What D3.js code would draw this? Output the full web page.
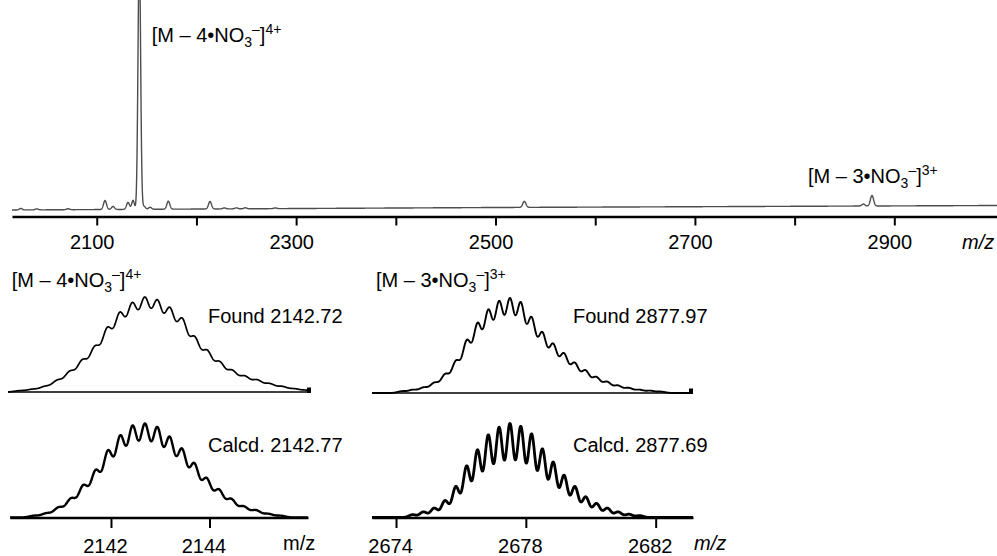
<!DOCTYPE html>
<html>
<head>
<meta charset="utf-8">
<script src="https://cdn.jsdelivr.net/npm/d3@7"></script>
<style>
  body { margin: 0; background: #fff; }
  svg { display: block; }
  text { font-family: "Liberation Sans", Arial, Helvetica, sans-serif; fill: #000; }
</style>
</head>
<body>
<svg id="chart" width="997" height="556"></svg>
<script>
// ---------- survey spectrum (m/z 2015–3000) ----------
const surveyTicks = [2100, 2200, 2300, 2400, 2500, 2600, 2700, 2800, 2900];
const surveyTickLabels = ["2100", "", "2300", "", "2500", "", "2700", "", "2900"];
const surveyPeakMz  = [2023.8, 2039.8, 2071.2, 2108.3, 2116.3, 2131.4, 2136.4, 2142.7, 2147.4, 2153.5, 2171.8, 2213.6, 2228, 2240, 2249, 2279, 2528.9, 2868.9, 2877.6];
const surveyPeakInt = [1.5,    1,      1,      9,      3,      7,      9,      260,    3,      2,      8,      7.5,    1,    1,    1,    0.7,  6,      2,      10.5];
const surveyPeakSigma = [1.5, 1.5, 1.5, 1.5, 1.5, 1.5, 1.3, 1.3, 1.5, 1.5, 1.5, 1.5, 1.5, 1.5, 1.5, 1.5, 1.6, 1.5, 1.6];
const surveyBaseMz  = [2015, 2500, 3003];
const surveyBaseInt = [0, 2.5, 4.5];

// ---------- isotope envelopes ----------
// [M - 4 NO3]4+ : isotope spacing 1/4
const found4Start = 2140.19, found4Spacing = 0.25, found4Sigma = 0.106;
const found4Int = [1.5, 3, 6, 12.6, 22, 34, 48, 68, 84, 94, 100, 97, 89, 78, 58, 44, 32, 23, 17, 13, 9, 6, 3.5, 2];
const calc4Start = 2140.44, calc4Spacing = 0.25, calc4Sigma = 0.098;
const calc4Int = [2, 4.6, 11, 20.5, 34.6, 50.5, 71.7, 87.6, 98, 100, 96.5, 86, 73.5, 58, 42, 30, 20, 12, 8, 4, 2];
const inset4Ticks = [2142, 2144];

// [M - 3 NO3]3+ : isotope spacing 1/3
const found3Start = 2674.19, found3Spacing = 1 / 3, found3Sigma = 0.132;
const found3Int = [2, 3.5, 6, 11, 20, 34, 56, 74, 88, 97, 100, 96, 80, 64, 52, 42, 32, 24, 17, 12, 8, 5.5, 3.5, 2.5, 1.5];
const calc3Start = 2674.51, calc3Spacing = 1 / 3, calc3Sigma = 0.11;
const calc3Int = [3, 6, 10, 18, 33, 55, 72, 88, 96, 100, 97, 89, 73, 59, 45, 33, 22, 15, 10, 6, 3.5, 2];
const inset3Ticks = [2674, 2678, 2682];

const svg = d3.select("#chart");
const FS = 20;

// ---------- helpers ----------
function profile(mzList, intList, sigmaList, m) {
  let s = 0;
  for (let i = 0; i < mzList.length; i++) {
    const sg = Array.isArray(sigmaList) ? sigmaList[i] : sigmaList;
    const d = m - mzList[i];
    if (Math.abs(d) < 8 * sg) s += intList[i] * Math.exp(-d * d / (2 * sg * sg));
  }
  return s;
}
function sticks(start, spacing, ints) {
  return ints.map((_, i) => start + i * spacing);
}
function sampleCurve(domain, step, fn) {
  const pts = [];
  for (let m = domain[0]; m <= domain[1] + 1e-9; m += step) pts.push([m, fn(m)]);
  return pts;
}
function ionLabel(x, y, n, charge) {
  const t = svg.append("text").attr("x", x).attr("y", y).style("font-size", FS + "px");
  t.append("tspan").text("[M \u2013 " + n + "\u2022NO");
  t.append("tspan").attr("dy", 5).style("font-size", "14px").text("3");
  t.append("tspan").attr("dy", -13).style("font-size", "14px").text("\u2013");
  t.append("tspan").attr("dy", 8).text("]");
  t.append("tspan").attr("dy", -8).style("font-size", "14px").text(charge);
}

// ---------- survey panel ----------
const xTop = d3.scaleLinear().domain([2015, 3003]).range([12, 997]);
const yTop = d3.scaleLinear().domain([0, 210]).range([210, 0]);
const baseFn = d3.scaleLinear().domain(surveyBaseMz).range(surveyBaseInt);

const surveyPts = sampleCurve(xTop.domain(), 0.2,
  m => baseFn(m) + profile(surveyPeakMz, surveyPeakInt, surveyPeakSigma, m));
svg.append("path")
  .datum(surveyPts)
  .attr("fill", "none")
  .attr("stroke", "#4d4d4d")
  .attr("stroke-width", 1.4)
  .attr("stroke-linejoin", "round")
  .attr("d", d3.line().x(d => xTop(d[0])).y(d => yTop(d[1])));

const topAxis = svg.append("g")
  .attr("transform", "translate(0,216.5)")
  .call(d3.axisBottom(xTop).tickValues(surveyTicks)
    .tickFormat((d, i) => surveyTickLabels[i])
    .tickSize(9).tickSizeOuter(0).tickPadding(9.3));
topAxis.select(".domain").attr("stroke", "#000").attr("stroke-width", 2.6);
topAxis.selectAll(".tick line").attr("stroke", "#000").attr("stroke-width", 2);
topAxis.selectAll(".tick text").attr("dx", -5)
  .style("font-size", FS + "px").style("font-family", '"Liberation Sans", Arial, sans-serif');

svg.append("text").attr("x", 962).attr("y", 249)
  .style("font-size", FS + "px").style("font-style", "italic").text("m/z");

ionLabel(151.7, 41.7, 4, "4+");
ionLabel(808, 183, 3, "3+");

// ---------- isotope insets ----------
function inset(cfg) {
  const x = d3.scaleLinear().domain(cfg.domain).range(cfg.range);
  const mzs = sticks(cfg.start, cfg.spacing, cfg.ints);
  const pts = sampleCurve(cfg.domain, 0.004, m => profile(mzs, cfg.ints, cfg.sigma, m));
  const y = d3.scaleLinear().domain([0, d3.max(pts, d => d[1])]).range([cfg.base, cfg.top]);

  if (cfg.ticks) {
    const ax = svg.append("g")
      .attr("transform", `translate(0,${cfg.base})`)
      .call(d3.axisBottom(x).tickValues(cfg.ticks).tickFormat(d3.format("d"))
        .tickSize(10.5).tickSizeOuter(0).tickPadding(10.8));
    ax.select(".domain").attr("stroke", "#000").attr("stroke-width", 2.6);
    ax.selectAll(".tick line").attr("stroke", "#000").attr("stroke-width", 2);
    ax.selectAll(".tick text").attr("dx", -6)
      .style("font-size", FS + "px").style("font-family", '"Liberation Sans", Arial, sans-serif');
  } else {
    svg.append("line")
      .attr("x1", cfg.range[0]).attr("x2", cfg.range[1])
      .attr("y1", cfg.base).attr("y2", cfg.base)
      .attr("stroke", "#000").attr("stroke-width", 1.4);
    svg.append("rect")
      .attr("x", cfg.range[1] - 3).attr("y", cfg.base - 4.5)
      .attr("width", 4).attr("height", 5.5).attr("fill", "#000");
  }

  svg.append("path")
    .datum(pts)
    .attr("fill", "none")
    .attr("stroke", "#000")
    .attr("stroke-width", cfg.lw)
    .attr("stroke-linejoin", "round")
    .attr("d", d3.line().x(d => x(d[0])).y(d => y(d[1])));
}

const dom4 = [2139.95, 2146.0];
const dom3 = [2673.26, 2683.15];

inset({ domain: dom4, range: [8, 310], start: found4Start, spacing: found4Spacing, sigma: found4Sigma,
        ints: found4Int, base: 392, top: 297, lw: 1.7 });
inset({ domain: dom4, range: [10, 308], start: calc4Start, spacing: calc4Spacing, sigma: calc4Sigma,
        ints: calc4Int, base: 517.5, top: 423.5, lw: 2.4, ticks: inset4Ticks });
inset({ domain: dom3, range: [372, 692], start: found3Start, spacing: found3Spacing, sigma: found3Sigma,
        ints: found3Int, base: 393, top: 298, lw: 1.9 });
inset({ domain: dom3, range: [372, 693], start: calc3Start, spacing: calc3Spacing, sigma: calc3Sigma,
        ints: calc3Int, base: 517.5, top: 423.5, lw: 2.8, ticks: inset3Ticks });

ionLabel(11.7, 286.7, 4, "4+");
ionLabel(376, 286.7, 3, "3+");

svg.append("text").attr("x", 208).attr("y", 323.3).style("font-size", FS + "px").text("Found 2142.72");
svg.append("text").attr("x", 573).attr("y", 323.3).style("font-size", FS + "px").text("Found 2877.97");
svg.append("text").attr("x", 208).attr("y", 451.7).style("font-size", FS + "px").text("Calcd. 2142.77");
svg.append("text").attr("x", 573).attr("y", 451.7).style("font-size", FS + "px").text("Calcd. 2877.69");

svg.append("text").attr("x", 283).attr("y", 550).style("font-size", FS + "px").text("m/z");
svg.append("text").attr("x", 694).attr("y", 550).style("font-size", FS + "px").style("font-style", "italic").text("m/z");
</script>
</body>
</html>
